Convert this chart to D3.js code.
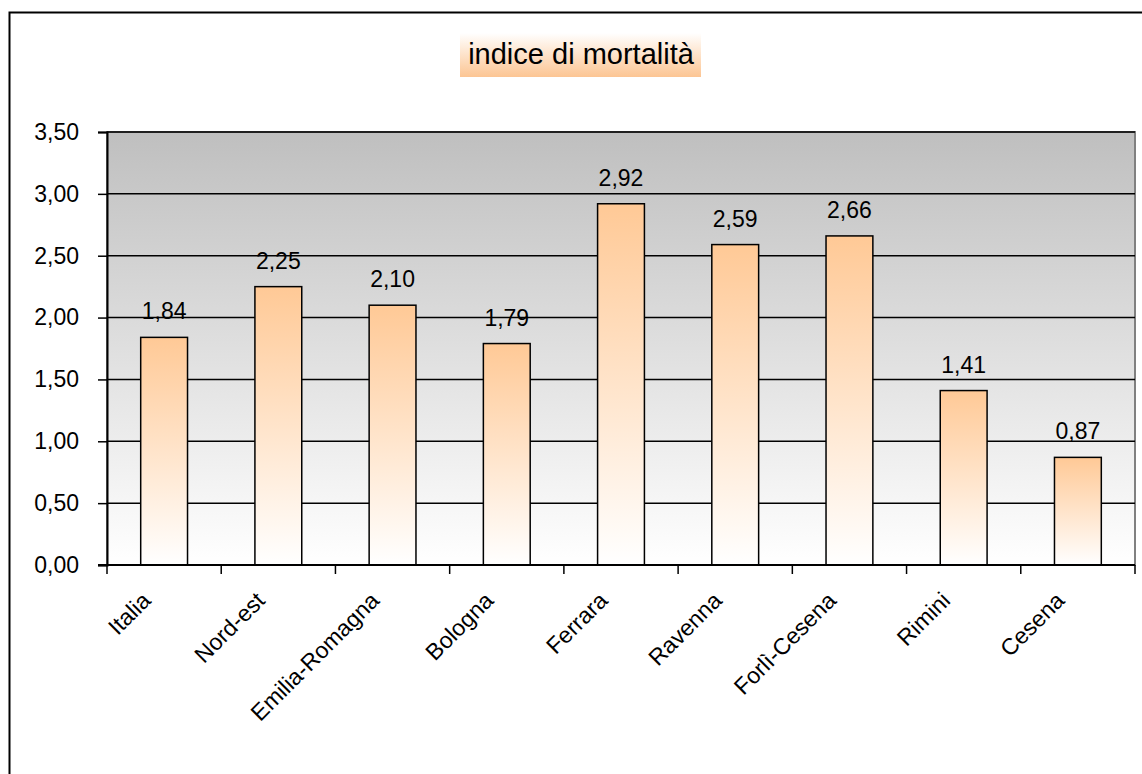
<!DOCTYPE html>
<html>
<head>
<meta charset="utf-8">
<script src="https://cdn.jsdelivr.net/npm/d3@7"></script>
<style>
  body { margin: 0; background: #fff; }
  text { font-family: "Liberation Sans", Arial, sans-serif; fill: #000; }
</style>
</head>
<body>
<div id="chart"></div>
<script>
// chart data
var categories = ["Italia", "Nord-est", "Emilia-Romagna", "Bologna", "Ferrara", "Ravenna", "Forlì-Cesena", "Rimini", "Cesena"];
var values = [1.84, 2.25, 2.10, 1.79, 2.92, 2.59, 2.66, 1.41, 0.87];
var yTicks = [0, 0.5, 1, 1.5, 2, 2.5, 3, 3.5];
var title = "indice di mortalità";

var W = 1142, H = 774;
var plot = {l: 107, t: 132, r: 1135, b: 565};
var fmt = function(d) { return d3.format(".2f")(d).replace(".", ","); };

var svg = d3.select("#chart").append("svg")
  .attr("width", W)
  .attr("height", H);

var defs = svg.append("defs");

// plot background: grey on top fading to white
var bg = defs.append("linearGradient").attr("id", "bgGrad")
  .attr("x1", 0).attr("y1", 0).attr("x2", 0).attr("y2", 1);
bg.append("stop").attr("offset", "0%").attr("stop-color", "#bfbfbf");
bg.append("stop").attr("offset", "100%").attr("stop-color", "#ffffff");

// bars: orange at top, white at bottom
var barGrad = defs.append("linearGradient").attr("id", "barGrad")
  .attr("x1", 0).attr("y1", 0).attr("x2", 0).attr("y2", 1);
barGrad.append("stop").attr("offset", "0%").attr("stop-color", "#ffc996");
barGrad.append("stop").attr("offset", "100%").attr("stop-color", "#ffffff");

// title box: white on top, orange below
var tGrad = defs.append("linearGradient").attr("id", "titleGrad")
  .attr("x1", 0).attr("y1", 0).attr("x2", 0).attr("y2", 1);
tGrad.append("stop").attr("offset", "0%").attr("stop-color", "#ffffff");
tGrad.append("stop").attr("offset", "100%").attr("stop-color", "#fcc593");

// outer chart border
svg.append("rect")
  .attr("x", 9.5).attr("y", 12.5)
  .attr("width", W + 20).attr("height", H + 20)
  .attr("fill", "none")
  .attr("stroke", "#000")
  .attr("stroke-width", 2);

// title
svg.append("rect")
  .attr("x", 460).attr("y", 33)
  .attr("width", 241).attr("height", 44)
  .attr("fill", "url(#titleGrad)");
svg.append("text")
  .attr("x", 581).attr("y", 64)
  .attr("text-anchor", "middle")
  .attr("font-size", "29px")
  .text(title);

var x = d3.scaleBand()
  .domain(categories)
  .range([plot.l, plot.r])
  .paddingInner(0.59)
  .paddingOuter(0.295);

var xOuter = d3.scaleBand()
  .domain(categories)
  .range([plot.l, plot.r]);

var y = d3.scaleLinear()
  .domain([0, 3.5])
  .range([plot.b, plot.t]);

// plot area
svg.append("rect")
  .attr("x", plot.l).attr("y", plot.t)
  .attr("width", plot.r - plot.l).attr("height", plot.b - plot.t)
  .attr("fill", "url(#bgGrad)")
  .attr("stroke", "#808080")
  .attr("stroke-width", 2);

// gridlines
svg.append("g").selectAll("line")
  .data(yTicks.filter(function(d) { return d > 0; }))
  .enter().append("line")
  .attr("x1", plot.l).attr("x2", plot.r)
  .attr("y1", function(d) { return y(d); })
  .attr("y2", function(d) { return y(d); })
  .attr("stroke", "#000")
  .attr("stroke-width", 1.5);

// y axis
var yAxis = d3.axisLeft(y)
  .tickValues(yTicks)
  .tickSize(9)
  .tickPadding(19)
  .tickFormat(fmt);

var gy = svg.append("g")
  .attr("transform", "translate(" + plot.l + ",0)")
  .call(yAxis);
gy.select(".domain").attr("stroke", "#000").attr("stroke-width", 2);
gy.selectAll(".tick line").attr("stroke", "#000").attr("stroke-width", 1.5);
gy.selectAll(".tick text").attr("font-size", "23px")
  .attr("font-family", "Liberation Sans, Arial, sans-serif");

// bars
svg.append("g").selectAll("rect")
  .data(values)
  .enter().append("rect")
  .attr("x", function(d, i) { return x(categories[i]); })
  .attr("y", function(d) { return y(d); })
  .attr("width", x.bandwidth())
  .attr("height", function(d) { return y(0) - y(d); })
  .attr("fill", "url(#barGrad)")
  .attr("stroke", "#000")
  .attr("stroke-width", 1.5);

// value labels
svg.append("g").selectAll("text")
  .data(values)
  .enter().append("text")
  .attr("x", function(d, i) { return x(categories[i]) + x.bandwidth() / 2; })
  .attr("y", function(d) { return y(d) - 18; })
  .attr("text-anchor", "middle")
  .attr("font-size", "23px")
  .text(fmt);

// x axis line + ticks at category boundaries
svg.append("line")
  .attr("x1", plot.l - 9).attr("x2", plot.r)
  .attr("y1", plot.b).attr("y2", plot.b)
  .attr("stroke", "#000").attr("stroke-width", 2);

var bounds = categories.map(function(c) { return xOuter(c); }).concat([plot.r]);
svg.append("g").selectAll("line")
  .data(bounds)
  .enter().append("line")
  .attr("x1", function(d) { return d; }).attr("x2", function(d) { return d; })
  .attr("y1", plot.b).attr("y2", plot.b + 9)
  .attr("stroke", "#000").attr("stroke-width", 1.5);

// rotated category labels
svg.append("g").selectAll("text")
  .data(categories)
  .enter().append("text")
  .attr("transform", function(d) {
    var cx = xOuter(d) + xOuter.bandwidth() / 2;
    return "translate(" + (cx - 12) + ",602) rotate(-45)";
  })
  .attr("text-anchor", "end")
  .attr("font-size", "23px")
  .text(function(d) { return d; });
</script>
</body>
</html>
